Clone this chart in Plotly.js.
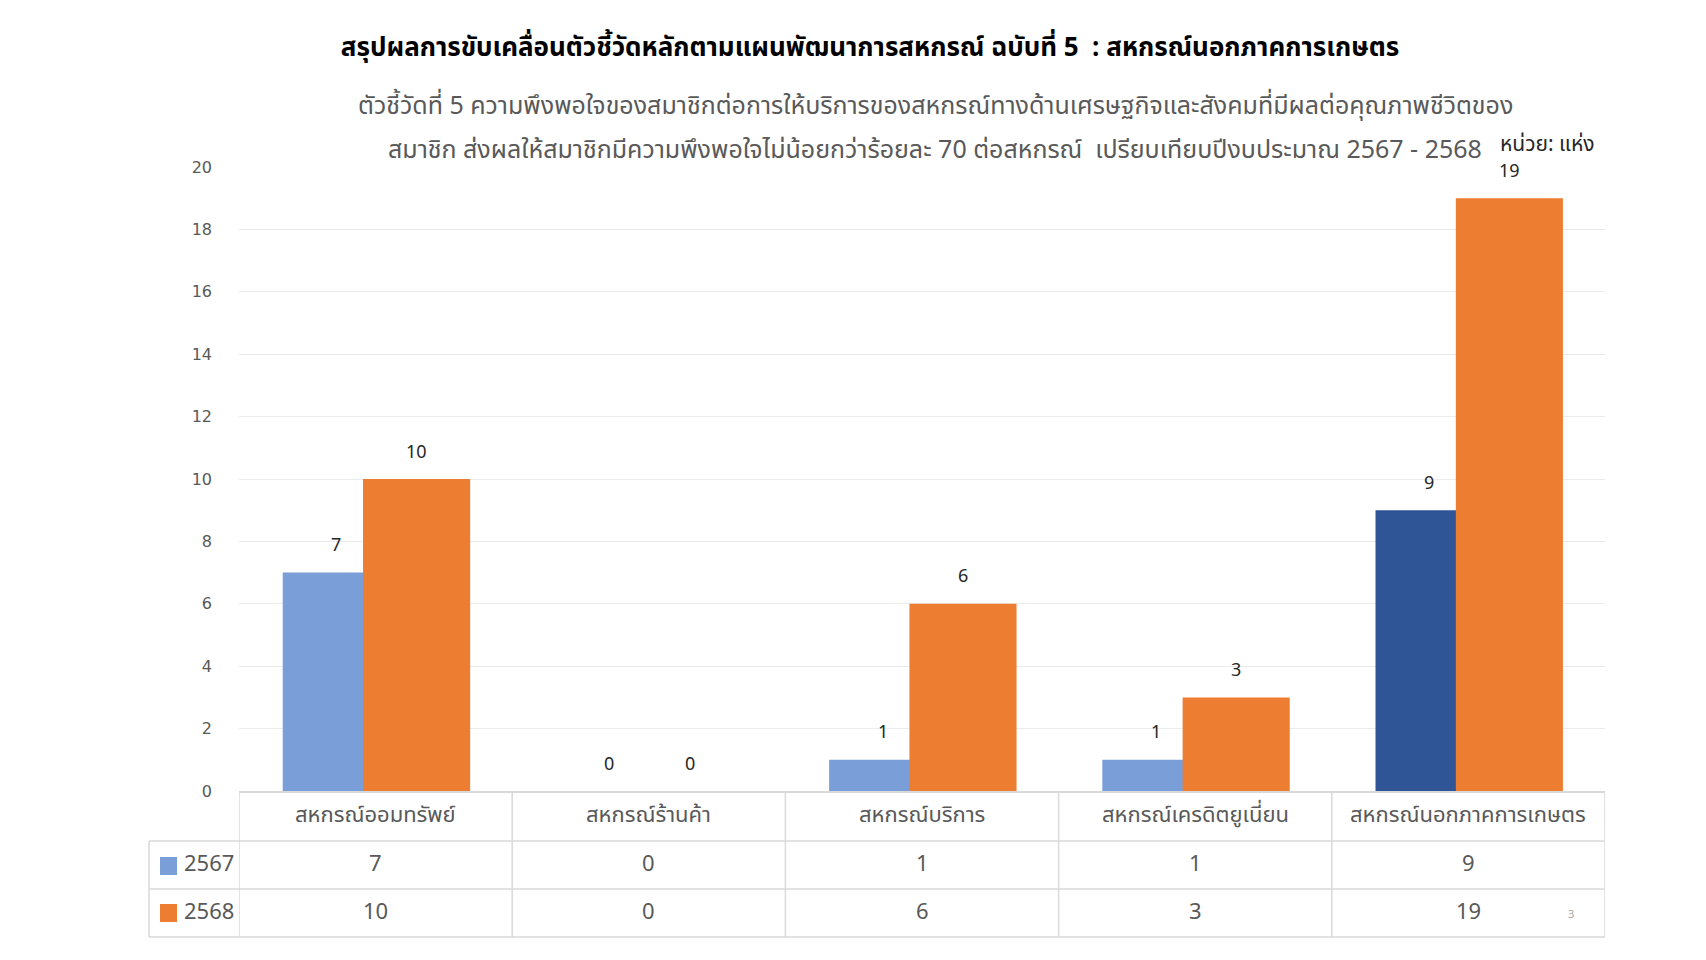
<!DOCTYPE html>
<html><head><meta charset="utf-8">
<script src="https://cdn.plot.ly/plotly-3.0.1.min.js"></script>
<style>html,body{margin:0;padding:0;background:#fff;}</style>
</head><body>
<div id="chart" style="width:1706px;height:960px;"></div>
<script>
const categories = ["สหกรณ์ออมทรัพย์","สหกรณ์ร้านค้า","สหกรณ์บริการ","สหกรณ์เครดิตยูเนี่ยน","สหกรณ์นอกภาคการเกษตร"];
const seriesNames = ["2567","2568"];
const values2567 = [7,0,1,1,9];
const values2568 = [10,0,6,3,19];
const yTicks = [0,2,4,6,8,10,12,14,16,18,20];
const titleText = "สรุปผลการขับเคลื่อนตัวชี้วัดหลักตามแผนพัฒนาการสหกรณ์ ฉบับที่ 5  : สหกรณ์นอกภาคการเกษตร";
const subLine1 = "ตัวชี้วัดที่ 5 ความพึงพอใจของสมาชิกต่อการให้บริการของสหกรณ์ทางด้านเศรษฐกิจและสังคมที่มีผลต่อคุณภาพชีวิตของ";
const subLine2 = "สมาชิก ส่งผลให้สมาชิกมีความพึงพอใจไม่น้อยกว่าร้อยละ 70 ต่อสหกรณ์  เปรียบเทียบปีงบประมาณ 2567 - 2568";
const unitText = "หน่วย: แห่ง";

const FONT = "Noto Sans Thai, Noto Sans, DejaVu Sans, sans-serif";
const C_BLUE = "#7A9ED8", C_BLUE_DARK = "#2F5597", C_ORANGE = "#ED7D31";
const xIdx = categories.map((c,i)=>i);
const blueColors = values2567.map((v,i)=> i===categories.length-1 ? C_BLUE_DARK : C_BLUE);

const W = 0.392, OFF_B = -0.34, OFF_O = -0.046;

const traces = [
  {type:"bar", name:seriesNames[0], x:xIdx, y:values2567, width:W, offset:OFF_B,
   marker:{color:blueColors}, hoverinfo:"y"},
  {type:"bar", name:seriesNames[1], x:xIdx, y:values2568, width:W, offset:OFF_O,
   marker:{color:C_ORANGE}, hoverinfo:"y"}
];

const annotations = [];
const lblFont = {family:FONT,size:18,color:"#262626"};
values2567.forEach((v,i)=>annotations.push({x:i+OFF_B+W/2, y:v, xref:"x", yref:"y", text:String(v),
  showarrow:false, xanchor:"center", yanchor:"middle", yshift:27, font:lblFont}));
values2568.forEach((v,i)=>annotations.push({x:i+OFF_O+W/2, y:v, xref:"x", yref:"y", text:String(v),
  showarrow:false, xanchor:"center", yanchor:"middle", yshift:27, font:lblFont}));

const pxToPaperX = p => (p-239)/1366;
const pxToPaperY = p => (791-p)/624;
const tblFont = {family:FONT,size:22,color:"#595959"};
const yHeader=pxToPaperY(815), yRow1=pxToPaperY(864), yRow2=pxToPaperY(912);
categories.forEach((c,i)=>{
  annotations.push({x:i,y:yHeader,xref:"x",yref:"paper",xanchor:"center",yanchor:"middle",text:c,showarrow:false,font:tblFont});
  annotations.push({x:i,y:yRow1,xref:"x",yref:"paper",xanchor:"center",yanchor:"middle",text:String(values2567[i]),showarrow:false,font:tblFont});
  annotations.push({x:i,y:yRow2,xref:"x",yref:"paper",xanchor:"center",yanchor:"middle",text:String(values2568[i]),showarrow:false,font:tblFont});
});
annotations.push({x:pxToPaperX(236),y:yRow1,xref:"paper",yref:"paper",xanchor:"right",yanchor:"middle",text:seriesNames[0],showarrow:false,font:tblFont});
annotations.push({x:pxToPaperX(236),y:yRow2,xref:"paper",yref:"paper",xanchor:"right",yanchor:"middle",text:seriesNames[1],showarrow:false,font:tblFont});
annotations.push({x:pxToPaperX(935),y:pxToPaperY(106),xref:"paper",yref:"paper",xanchor:"center",yanchor:"middle",text:subLine1,showarrow:false,font:{family:FONT,size:25,color:"#595959"}});
annotations.push({x:pxToPaperX(935),y:pxToPaperY(150),xref:"paper",yref:"paper",xanchor:"center",yanchor:"middle",text:subLine2,showarrow:false,font:{family:FONT,size:25,color:"#595959"}});
annotations.push({x:pxToPaperX(1597),y:pxToPaperY(145),xref:"paper",yref:"paper",xanchor:"right",yanchor:"middle",text:unitText,showarrow:false,font:{family:FONT,size:21,color:"#262626"}});
annotations.push({x:pxToPaperX(1571),y:pxToPaperY(914),xref:"paper",yref:"paper",xanchor:"center",yanchor:"middle",text:"3",showarrow:false,font:{family:FONT,size:11,color:"#A6A6A6"}});

const LC = "#D9D9D9";
const shapes = [];
const hl = (x0,x1,y)=>shapes.push({type:"line",xref:"paper",yref:"paper",x0:pxToPaperX(x0),x1:pxToPaperX(x1),y0:y,y1:y,line:{color:LC,width:1.5}});
hl(149,1605,pxToPaperY(841));
hl(149,1605,pxToPaperY(889));
hl(149,1605,pxToPaperY(937));
for(let k=0;k<=categories.length;k++){
  shapes.push({type:"line",xref:"x",yref:"paper",x0:k-0.5,x1:k-0.5,y0:0,y1:pxToPaperY(937),line:{color:LC,width:1.5}});
}
shapes.push({type:"line",xref:"paper",yref:"paper",x0:pxToPaperX(149),x1:pxToPaperX(149),y0:pxToPaperY(841),y1:pxToPaperY(937),line:{color:LC,width:1.5}});
shapes.push({type:"rect",xref:"paper",yref:"paper",x0:pxToPaperX(160),x1:pxToPaperX(177),y0:pxToPaperY(857),y1:pxToPaperY(875),fillcolor:C_BLUE,line:{width:0}});
shapes.push({type:"rect",xref:"paper",yref:"paper",x0:pxToPaperX(160),x1:pxToPaperX(177),y0:pxToPaperY(904),y1:pxToPaperY(922),fillcolor:C_ORANGE,line:{width:0}});

const layout = {
  width:1706, height:960,
  margin:{l:239, r:101, t:167, b:169, pad:0},
  paper_bgcolor:"#fff", plot_bgcolor:"#fff",
  barmode:"overlay", showlegend:false,
  title:{text:"<b>"+titleText+"</b>", x:0.51, xanchor:"center", y:1-47/960, yanchor:"middle",
    font:{family:FONT,size:26,color:"#000"}},
  xaxis:{type:"linear", range:[-0.5,categories.length-0.5], showticklabels:false, showgrid:false,
    zeroline:false, showline:true, linecolor:LC, linewidth:2, fixedrange:true},
  yaxis:{range:[0,20], tickvals:yTicks, showgrid:true, gridcolor:"#EBEBEB", gridwidth:1,
    zeroline:false, showline:false, ticks:"", ticklabelstandoff:26,
    tickfont:{family:"DejaVu Sans, Verdana, sans-serif",size:16,color:"#595959"}, fixedrange:true},
  annotations:annotations, shapes:shapes
};
Plotly.newPlot("chart", traces, layout, {displayModeBar:false, staticPlot:true});
</script>
</body></html>
